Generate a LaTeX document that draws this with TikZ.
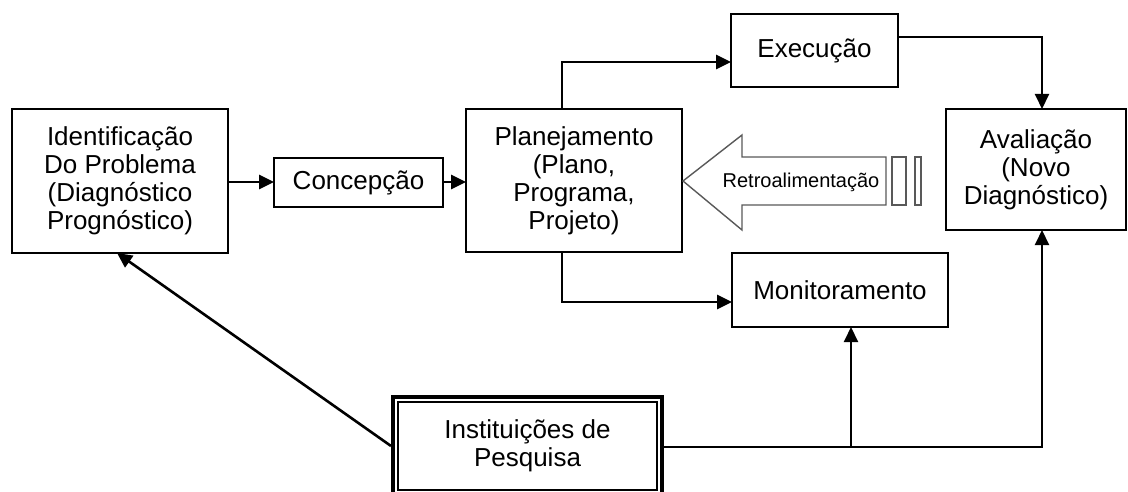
\documentclass[tikz,border=0pt]{standalone}
\usepackage{fontspec}
\setmainfont{Liberation Sans}
\usetikzlibrary{arrows.meta}
\begin{document}
\begin{tikzpicture}[x=1pt,y=-1pt,
  box/.style={draw,line width=1.8pt,align=center,inner sep=0pt,outer sep=0pt,
    font=\fontsize{26}{28}\selectfont},
  arr/.style={line width=2.6pt,-{Triangle[length=15pt,width=14pt]}},
  thin arr/.style={line width=2pt,-{Triangle[length=15pt,width=14pt]}},
  fb/.style={draw=black!65,line width=1.4pt,fill=white}]
\useasboundingbox (0,0) rectangle (1128,492);
\node[box,minimum width=216pt,minimum height=144pt] (ident) at (120,181)
  {Identificação\\Do Problema\\(Diagnóstico\\Prognóstico)};
\node[box,minimum width=169pt,minimum height=49pt] (conc) at (358.5,182.5) {Concepção};
\node[box,minimum width=216pt,minimum height=143pt] (plan) at (574,180.5)
  {Planejamento\\(Plano,\\Programa,\\Projeto)};
\node[box,minimum width=167pt,minimum height=73pt] (exec) at (814.5,50.5) {Execução};
\node[box,minimum width=180pt,minimum height=121pt] (aval) at (1036,169.5)
  {Avaliação\\(Novo\\Diagnóstico)};
\node[box,minimum width=216pt,minimum height=74pt] (mon) at (840,290) {Monitoramento};
\node[box,line width=1.6pt,minimum width=259pt,minimum height=88pt] (inst) at (527.5,446)
  {Instituições de\\Pesquisa};
\draw[line width=4pt] ([shift={(-5pt,5pt)}]inst.north west) rectangle ([shift={(5pt,-5pt)}]inst.south east);
% feedback arrow
\draw[fb] (683,181) -- (742,135) -- (742,157) -- (886,157) -- (886,205) -- (742,205) -- (742,230) -- cycle;
\draw[fb] (892,157) rectangle (906,205);
\draw[fb] (915,157) rectangle (921,205);
\node[font=\fontsize{20}{22}\selectfont] (retro) at (801,182) {Retroalimentação};
% connectors
\draw[arr] (ident.east |- 0,182) -- (conc.west |- 0,182);
\draw[arr] (conc.east |- 0,182) -- (plan.west |- 0,182);
\draw[arr] ([xshift=-12pt]plan.north) |- ([yshift=-11.5pt]exec.west);
\draw[thin arr] ([yshift=13.5pt]exec.east) -| ([xshift=6pt]aval.north);
\draw[arr] ([xshift=-12pt]plan.south) |- ([yshift=-12pt]mon.west);
\draw[thin arr] ([xshift=7pt,yshift=-1pt]inst.east) -| ([xshift=6pt]aval.south);
\coordinate (br) at ([xshift=11pt]mon.south |- inst.east);
\draw[thin arr] ([yshift=-1pt]br) -- ([xshift=11pt]mon.south);
\draw[arr] ([xshift=-7pt]inst.west) -- ([xshift=-3pt]ident.south);
\end{tikzpicture}
\end{document}
